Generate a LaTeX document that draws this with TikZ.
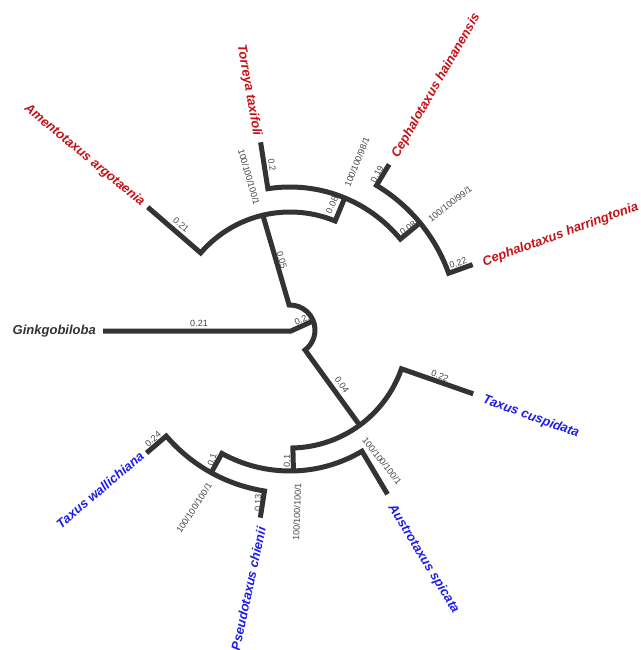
\documentclass[tikz,border=0pt]{standalone}
\usepackage{fontspec}
\setmainfont{Liberation Sans}
\usetikzlibrary{calc}
\definecolor{brc}{RGB}{51,51,51}
\definecolor{lblc}{RGB}{70,70,70}
\definecolor{redc}{RGB}{196,18,24}
\definecolor{bluec}{RGB}{30,30,235}
\definecolor{gkc}{RGB}{51,51,51}
\begin{document}
\begin{tikzpicture}[x=1pt,y=-1pt,
  br/.style={draw=brc, line width=5pt, line join=miter, line cap=butt},
  bl/.style={font=\fontsize{9}{9}\selectfont, text=lblc, inner sep=0pt},
  sp/.style={font=\fontsize{13}{13}\selectfont\bfseries\itshape, inner sep=0pt},
  redsp/.style={sp, text=redc},
  bluesp/.style={sp, text=bluec}]
\useasboundingbox (0,0) rectangle (640,650);
\fill[white] (0,0) rectangle (640,650);
% ---- centre of the circular tree
\coordinate (O) at (290,330);
% ---- root
\coordinate (gt) at (103,331);
\coordinate (g0) at (291,331);
\coordinate (rd) at (313,321);
\coordinate (rt) at ($(O)+(-92:25)$);
\coordinate (n1) at ($(O)+(-103.3:118)$);
\coordinate (n2) at ($(O)+(53.8:118)$);
% ---- upper clade
\coordinate (amt) at ($(O)+(-139.2:188)$);
\coordinate (amc) at ($(O)+(-139.2:118)$);
\coordinate (xn)  at ($(O)+(-67.5:143)$);
\coordinate (tort) at ($(O)+(-98.9:190)$);
\coordinate (torc) at ($(O)+(-98.9:143)$);
\coordinate (yn)  at ($(O)+(-39.5:168.5)$);
\coordinate (hat) at ($(O)+(-59.1:193)$);
\coordinate (hac) at ($(O)+(-59.1:168.5)$);
\coordinate (hrt) at ($(O)+(-19.7:194)$);
% ---- lower clade
\coordinate (zc)  at ($(O)+(88.6:118)$);
\coordinate (tct) at ($(O)+(19.2:194)$);
\coordinate (zn)  at ($(O)+(88.6:141)$);
\coordinate (wc)  at ($(O)+(118.9:141)$);
\coordinate (aut) at ($(O)+(59.3:191)$);
\coordinate (wn)  at ($(O)+(118.9:163)$);
\coordinate (twc) at ($(O)+(139.4:163)$);
\coordinate (twt) at ($(O)+(139.4:189)$);
\coordinate (pst) at ($(O)+(99:190)$);
% ---- hidden root label (under the arc)
\node[bl, rotate=22] (lroot) at (303,319) {0.21};
% ---- branches
\draw[br] (gt) -- (g0) -- (rd);
\draw[br] (n1) -- (rt) arc[start angle=-92, end angle=53, radius=25] -- (n2);
\draw[br] (amt) -- (amc) arc[start angle=-139.2, end angle=-67.5, radius=118] -- (xn);
\draw[br] (tort) -- (torc) arc[start angle=-98.9, end angle=-39.5, radius=143] -- (yn);
\draw[br] (hat) -- (hac) arc[start angle=-59.1, end angle=-19.7, radius=168.5] -- (hrt);
\draw[br] (zn) -- (zc) arc[start angle=88.6, end angle=19.2, radius=118] -- (tct);
\draw[br] (wn) -- (wc) arc[start angle=118.9, end angle=59.3, radius=141] -- (aut);
\draw[br] (twt) -- (twc) arc[start angle=139.4, end angle=99, radius=163] -- (pst);
% ---- species
\node[sp, text=gkc, anchor=east] (gk) at (96,331) {Ginkgobiloba};
\node[redsp, rotate=-39.6, anchor=east] (am) at (143,204) {Amentotaxus argotaenia};
\node[redsp, rotate=-80, anchor=east] (tor) at (257,136) {Torreya taxifoli};
\node[redsp, rotate=60, anchor=west] (hai) at (395,157) {Cephalotaxus hainanensis};
\node[redsp, rotate=20, anchor=west] (har) at (483,263) {Cephalotaxus harringtonia};
\node[bluesp, rotate=-20, anchor=west] (tc) at (483,399.5) {Taxus cuspidata};
\node[bluesp, rotate=-58.5, anchor=west] (au) at (391,506) {Austrotaxus spicata};
\node[bluesp, rotate=78, anchor=east] (ps) at (261.5,527) {Pseudotaxus chienii};
\node[bluesp, rotate=40.4, anchor=east] (tw) at (142,454) {Taxus wallichiana};
% ---- branch lengths / supports
\node[bl] (l1) at (199,323) {0.21};
\node[bl, rotate=-75] (l2) at (282,260) {0.05};
\node[bl, rotate=-40] (l3) at (181,225) {0.21};
\node[bl, rotate=-80] (l4) at (272,165) {0.2};
\node[bl, rotate=-74] (s1) at (249,177) {100/100/100/1};
\node[bl, rotate=65] (l5) at (332,205) {0.08};
\node[bl, rotate=68] (s2) at (357,162) {100/100/98/1};
\node[bl, rotate=62] (l6) at (377,174) {0.19};
\node[bl, rotate=35] (l7) at (408,228) {0.08};
\node[bl, rotate=38] (s3) at (450,204) {100/100/99/1};
\node[bl, rotate=18] (l8) at (458,263) {0.22};
\node[bl, rotate=-55] (l9) at (342,385) {0.04};
\node[bl, rotate=-20] (l10) at (440,376) {0.22};
\node[bl, rotate=-52] (s4) at (382,461) {100/100/100/1};
\node[bl, rotate=88] (l11) at (287,461) {0.1};
\node[bl, rotate=88] (s5) at (297,512) {100/100/100/1};
\node[bl, rotate=72] (l12) at (212,460) {0.1};
\node[bl, rotate=57] (s6) at (194,508) {100/100/100/1};
\node[bl, rotate=40] (l13) at (153,439) {0.24};
\node[bl, rotate=88] (l14) at (258,503) {0.13};
\end{tikzpicture}
\end{document}
